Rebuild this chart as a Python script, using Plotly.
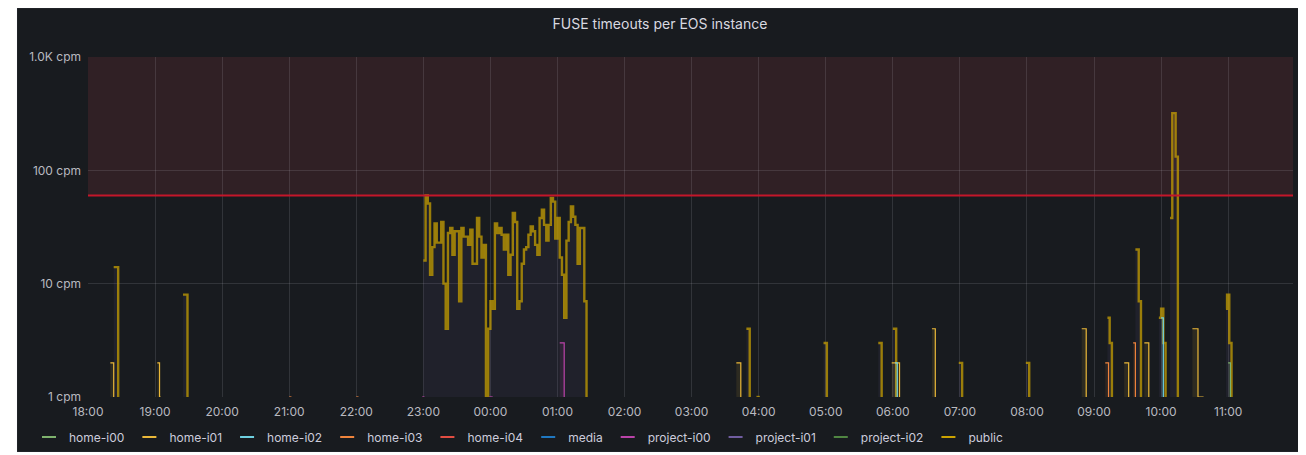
import pandas as pd
import plotly.graph_objects as go

# ---------------- data ----------------
DAY0, DAY1 = "2021-11-15", "2021-11-16"

series_names = ["home-i00", "home-i01", "home-i02", "home-i03", "home-i04",
                "media", "project-i00", "project-i01", "project-i02", "public"]
series_colors = ["#7EB26D", "#EAB839", "#6ED0E0", "#EF843C", "#E24D42",
                 "#1F78C1", "#BA43A9", "#705DA0", "#508642", "#CCA300"]

# public: isolated spikes (None = gap)
public_t = ["18:23", "18:27", "18:28",
            "19:25", "19:29", "19:30",
            "03:49", "03:52", "03:53",
            "03:58", "04:01", "04:02",
            "04:58", "05:01", "05:02", "05:03",
            "05:47", "05:50", "05:51",
            "06:00", "06:03", "06:04",
            "06:59", "07:02", "07:03",
            "07:59", "08:02", "08:03",
            "09:12", "09:14", "09:16", "09:17", "09:18",
            "09:37", "09:40", "09:42", "09:43",
            "09:58", "10:00", "10:02", "10:04", "10:05",
            "10:08", "10:10", "10:13", "10:15", "10:16",
            "10:58", "10:59", "11:01", "11:03", "11:04"]
public_v = [14, 0, None,
            8, 0, None,
            4, 0, None,
            0, 0, None,
            3, 0, 0, None,
            3, 0, None,
            4, 0, None,
            2, 0, None,
            2, 0, None,
            5, 3, 0, 0, None,
            20, 7, 0, None,
            5, 6, 3, 0, None,
            38, 320, 132, 0, None,
            6, 8, 3, 0, None]

# public: dense block, one value every 2 minutes from 23:00
public_block_start = "23:00"
public_block_v = [16, 60, 51, 12, 21, 34, 23, 23, 35, 10,
                  4, 28, 31, 18, 29, 29, 7, 31, 26, 26,
                  22, 30, 15, 15, 38, 26, 17, 22, 0, 4,
                  7, 6, 34, 28, 31, 27, 20, 27, 12, 18,
                  42, 35, 6, 7, 15, 20, 21, 27, 32, 29,
                  22, 18, 38, 45, 33, 24, 33, 57, 53, 25,
                  38, 17, 12, 5, 24, 35, 48, 39, 33, 15,
                  31, 31, 7, 0]

home_i01_t = ["18:20", "18:23", "18:24",
              "19:02", "19:04", "19:05", "19:06",
              "03:40", "03:44", "03:45",
              "05:59", "06:06", "06:07",
              "06:35", "06:38", "06:39",
              "08:49", "08:53", "08:54",
              "09:27", "09:31", "09:32",
              "09:45", "09:49", "09:50",
              "10:28", "10:33", "10:38", "10:39"]
home_i01_v = [2, 0, None,
              2, 0, 0, None,
              2, 0, None,
              2, 0, None,
              4, 0, None,
              4, 0, None,
              2, 0, None,
              3, 0, None,
              4, 0, 0, None]

home_i03_t = ["21:00", "21:02", "21:03",
              "22:00", "22:02", "22:03",
              "09:10", "09:13", "09:14",
              "09:35", "09:37", "09:38"]
home_i03_v = [0, 0, None,
              0, 0, None,
              2, 0, None,
              3, 0, None]

home_i02_t = ["06:02", "06:04", "06:05",
              "10:00", "10:02", "10:03"]
home_i02_v = [2, 0, None,
              5, 0, None]

project_i00_t = ["22:59", "23:01", "23:02",
                 "23:59", "00:02", "00:03",
                 "01:02", "01:06", "01:07"]
project_i00_v = [0, 0, None,
                 0, 0, None,
                 3, 0, None]

home_i00_t = ["11:00", "11:02", "11:03"]
home_i00_v = [2, 0, None]

empty_t, empty_v = [], []

threshold = 60
y_tickvals = [1, 10, 100, 1000]
y_ticktext = ["1 cpm", "10 cpm", "100 cpm", "1.0K cpm"]
x_start, x_end = "18:00", "11:58"


# ---------------- helpers ----------------
def ts(hm):
    h = int(hm[:2])
    return pd.Timestamp(f"{DAY0 if h >= 18 else DAY1} {hm}")


def segments(times, vals):
    """Split a series into continuous pieces at None gaps."""
    pts = sorted(((ts(t), v) for t, v in zip(times, vals)), key=lambda p: p[0])
    segs, cur = [], ([], [])
    for x, v in pts:
        if v is None:
            if cur[0]:
                segs.append(cur)
            cur = ([], [])
        else:
            cur[0].append(x)
            # zero counts sit on the axis floor (1 cpm) of the log scale
            cur[1].append(max(v, 1))
    if cur[0]:
        segs.append(cur)
    return segs


block_times = pd.date_range(ts(public_block_start), periods=len(public_block_v), freq="2min")
pub_t_all = [t.strftime("%H:%M") for t in block_times] + ["01:27"] + public_t
pub_v_all = list(public_block_v) + [None] + public_v

data = {
    "home-i00": (home_i00_t, home_i00_v),
    "home-i01": (home_i01_t, home_i01_v),
    "home-i02": (home_i02_t, home_i02_v),
    "home-i03": (home_i03_t, home_i03_v),
    "home-i04": (empty_t, empty_v),
    "media": (empty_t, empty_v),
    "project-i00": (project_i00_t, project_i00_v),
    "project-i01": (empty_t, empty_v),
    "project-i02": (empty_t, empty_v),
    "public": (pub_t_all, pub_v_all),
}


def rgba(hexc, a):
    hexc = hexc.lstrip("#")
    r, g, b = int(hexc[0:2], 16), int(hexc[2:4], 16), int(hexc[4:6], 16)
    return f"rgba({r},{g},{b},{a})"


fig = go.Figure()

draw_order = ["public"] + [n for n in series_names if n != "public"]
for name in draw_order:
    c = series_colors[series_names.index(name)]
    if name == "public":
        line = dict(color=rgba(c, 0.72), width=2.4, shape="hv")
        fillc = "rgba(112,93,160,0.10)"
    else:
        line = dict(color=c, width=1.2, shape="hv")
        fillc = rgba(c, 0.10)
    for xs, ys in segments(*data[name]):
        fig.add_trace(go.Scatter(x=xs, y=ys, mode="lines", line=line, fill="tozeroy",
                                 fillcolor=fillc, name=name, legendgroup=name,
                                 showlegend=False))

# legend entries (short dash like the original)
for name, c in zip(series_names, series_colors):
    fig.add_trace(go.Scatter(x=[None], y=[None], mode="markers", name=name,
                             legendgroup=name,
                             marker=dict(symbol="line-ew-open", size=10, color=c,
                                         line=dict(width=2, color=c))))

# page has an 8px body margin: figure coordinates = page coordinates - 8
W, H = 1298, 447
L, R, T, B = 80, 13, 49, 58
pw, ph = W - L - R, H - T - B


def px2paper_x(px):
    return (px - L) / pw


def px2paper_y(py):
    return (H - B - py) / ph


shapes = [
    dict(type="rect", xref="paper", yref="paper",
         x0=px2paper_x(9), x1=px2paper_x(1295), y0=px2paper_y(444), y1=px2paper_y(0),
         fillcolor="#181b1f", line=dict(color="rgba(204,204,220,0.10)", width=1),
         layer="below"),
    dict(type="rect", xref="paper", yref="y", x0=0, x1=1, y0=threshold, y1=1000,
         fillcolor="rgba(242,73,92,0.11)", line=dict(width=0), layer="below"),
    dict(type="line", xref="paper", yref="y", x0=0, x1=1, y0=threshold, y1=threshold,
         line=dict(color="#C4162A", width=2), layer="above"),
]

grid = "rgba(204,204,220,0.14)"
tickfont = dict(family="Inter, Roboto, sans-serif", size=12, color="#b9bac0")

fig.update_layout(
    width=W, height=H,
    margin=dict(l=L, r=R, t=T, b=B, autoexpand=False),
    paper_bgcolor="white",
    plot_bgcolor="rgba(0,0,0,0)",
    shapes=shapes,
    title=dict(text="FUSE timeouts per EOS instance", xref="container", x=652 / W,
               xanchor="center", yref="container", y=1 - 16 / H, yanchor="middle",
               font=dict(family="Inter, Roboto, sans-serif", size=14, color="#d8d9e0")),
    showlegend=True,
    legend=dict(orientation="h", xref="container", x=21 / W, xanchor="left",
                yref="container", y=1 - 429 / H, yanchor="middle",
                font=dict(family="Inter, Roboto, sans-serif", size=12, color="#ccccdc"),
                bgcolor="rgba(0,0,0,0)", itemwidth=30, tracegroupgap=0),
    hovermode=False,
)

fig.update_xaxes(type="date", range=[ts(x_start), ts(x_end)], dtick=3600000,
                 tickformat="%H:%M", showgrid=True, gridcolor=grid, gridwidth=1,
                 zeroline=False, showline=False, ticks="", ticklabelstandoff=6,
                 tickfont=tickfont, automargin=False)
fig.update_yaxes(type="log", range=[0, 3], tickvals=y_tickvals, ticktext=y_ticktext,
                 showgrid=True, gridcolor=grid, gridwidth=1, zeroline=False,
                 showline=False, ticks="", ticklabelstandoff=6, tickfont=tickfont,
                 automargin=False)

fig.write_html("out.html")
